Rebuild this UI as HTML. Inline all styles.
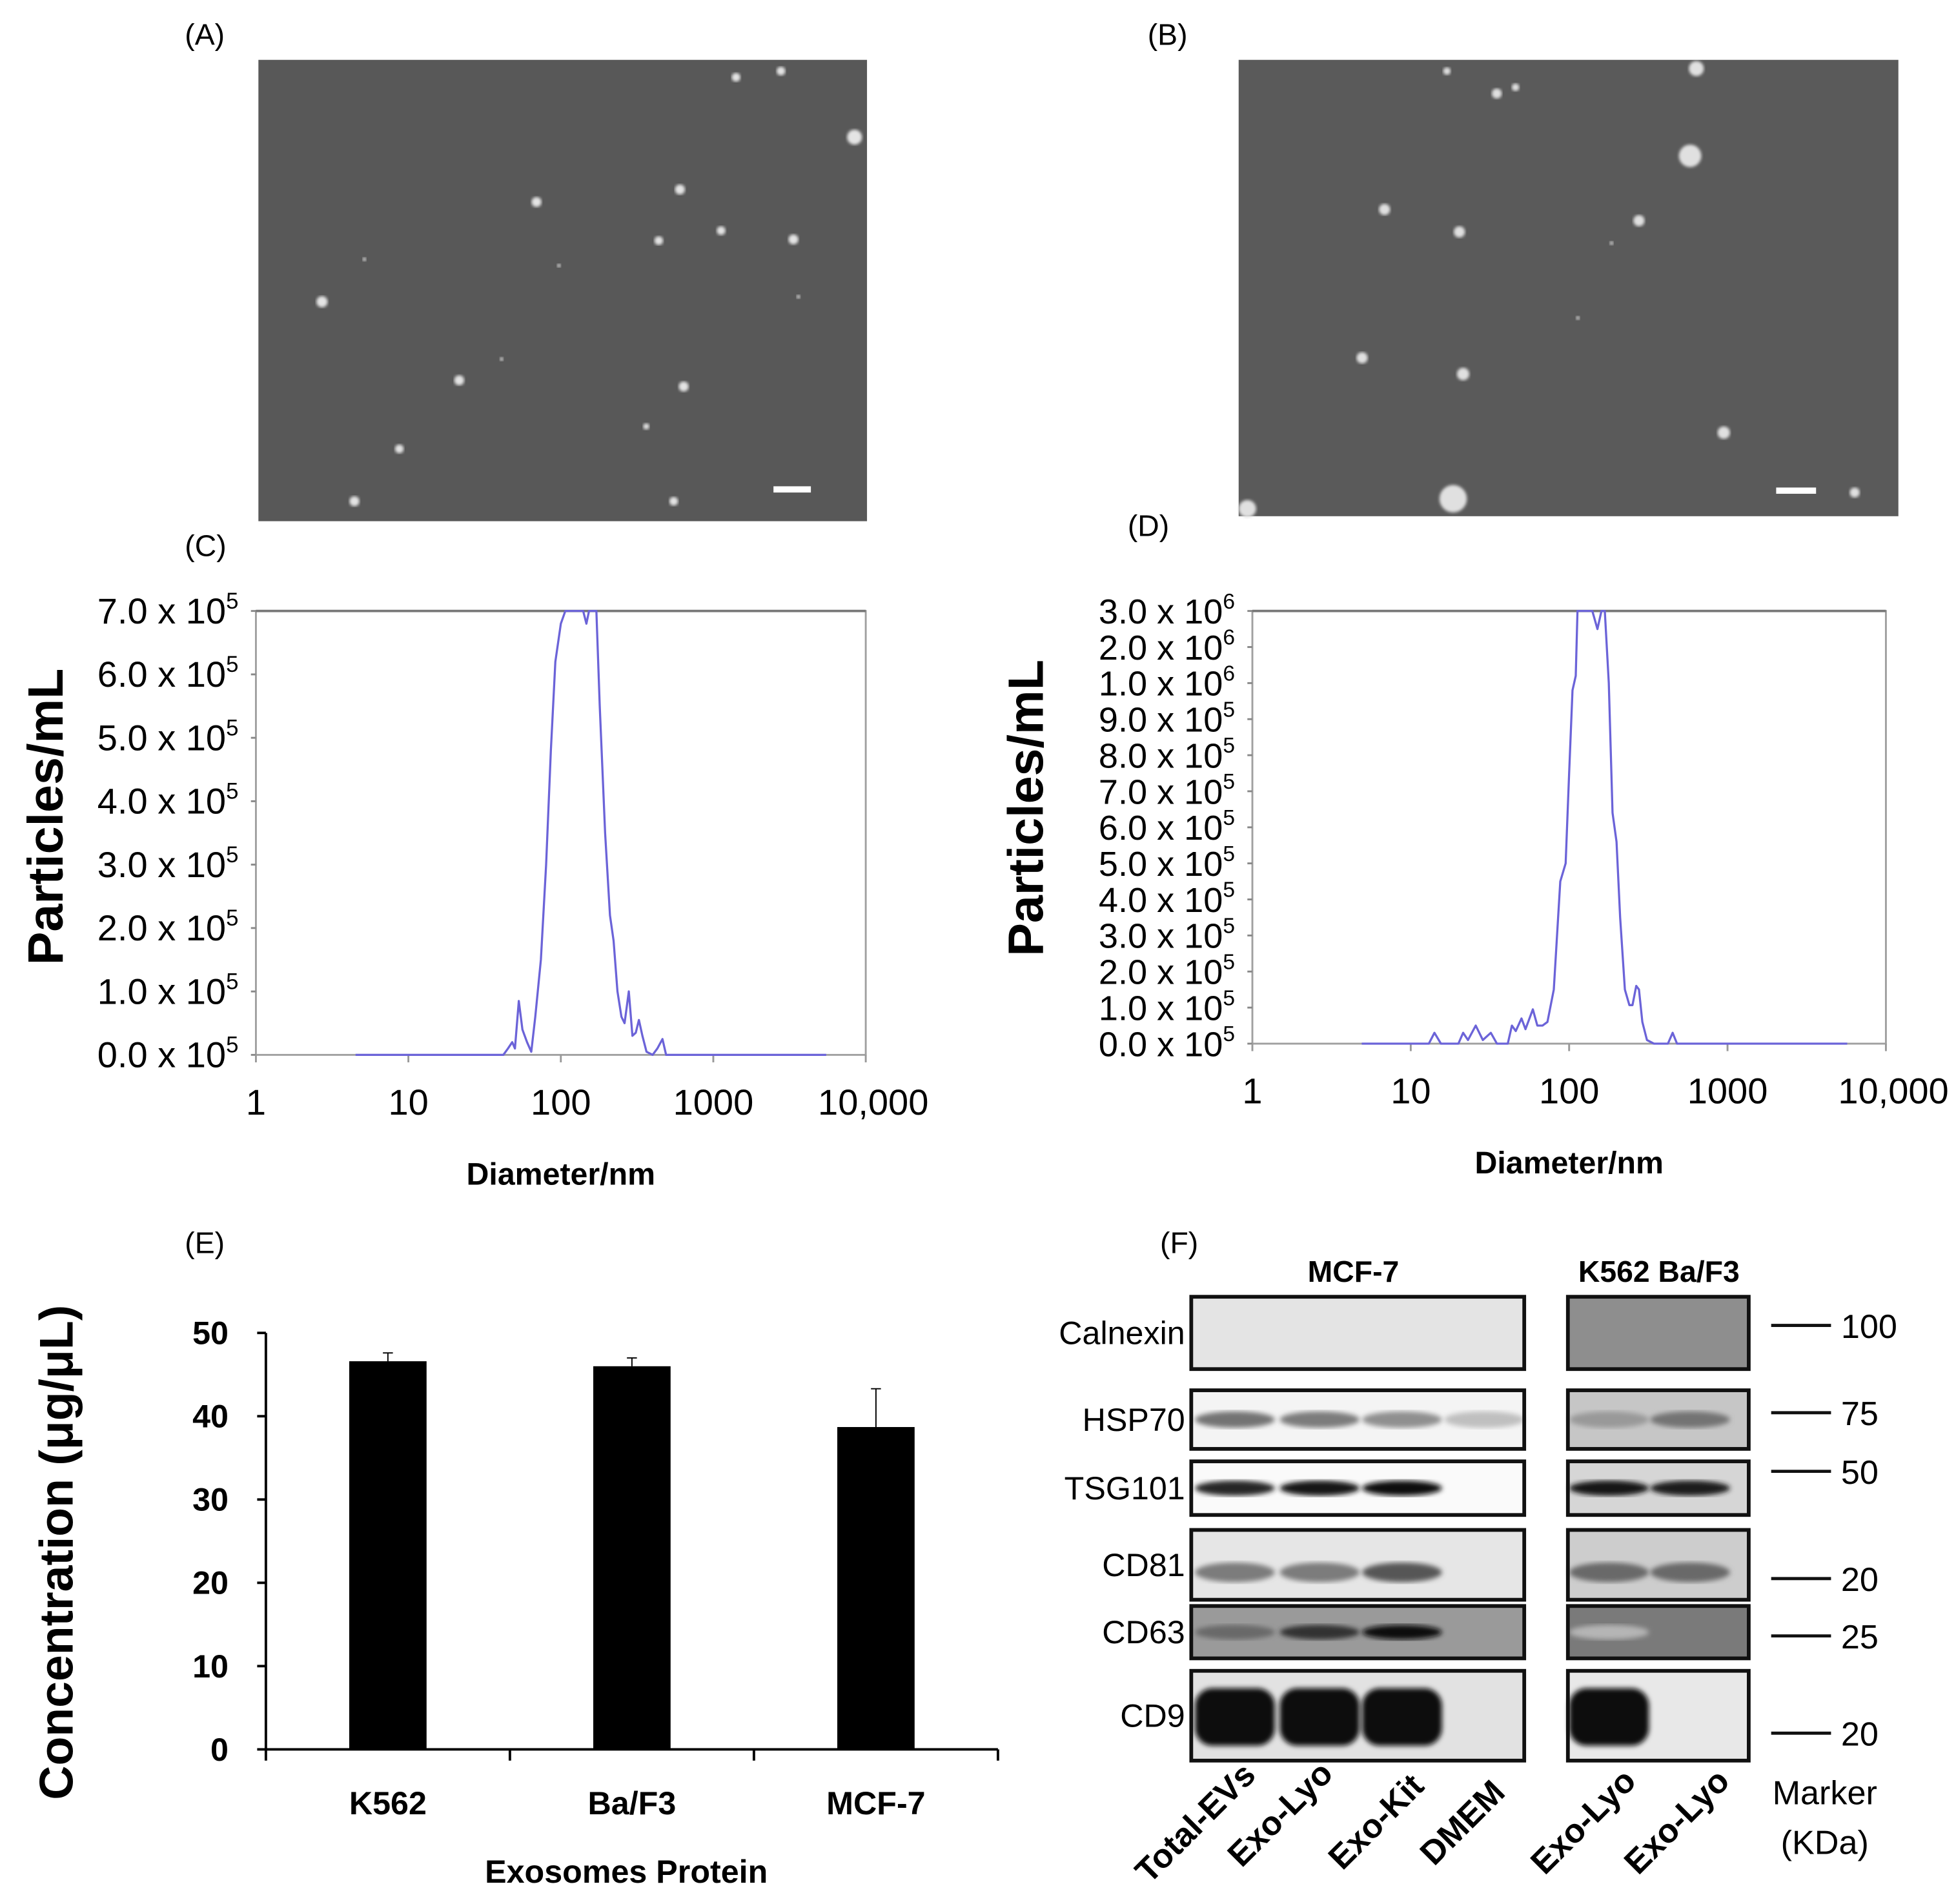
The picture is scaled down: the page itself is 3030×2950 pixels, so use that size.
<!DOCTYPE html>
<html><head><meta charset="utf-8"><style>
html,body{margin:0;padding:0;background:#fff;}
svg{display:block;font-family:"Liberation Sans",sans-serif;}
.n{font-family:"Liberation Sans Narrow","Liberation Sans",sans-serif;}
</style></head><body>
<svg id="fig" xmlns="http://www.w3.org/2000/svg" width="3030" height="2950" viewBox="0 0 1568 1527">
<defs>
<filter id="blur2"><feGaussianBlur stdDeviation="2"/></filter>
<filter id="blur1"><feGaussianBlur stdDeviation="1.2"/></filter>
</defs>
<rect width="1568" height="1527" fill="#fff"/>
<text x="148" y="36" font-size="24">(A)</text>
<text x="920" y="36" font-size="24">(B)</text>
<text x="148" y="446" font-size="24">(C)</text>
<text x="904" y="430" font-size="24">(D)</text>
<text x="148" y="1005" font-size="24">(E)</text>
<text x="930" y="1005" font-size="24">(F)</text>

<g id="semA">
<rect x="207" y="48" width="488" height="370" fill="#585858"/>
<rect x="620" y="390" width="30" height="5" fill="#fff"/>
</g>
<g id="semB">
<rect x="993" y="48" width="529" height="366" fill="#5a5a5a"/>
<rect x="1424" y="391" width="32" height="5" fill="#fff"/>
</g>

<g id="chartC"></g>
<g id="chartD"></g>
<g id="chartE"></g>
<g id="blotF"></g>
</svg>
<script>
const NS="http://www.w3.org/2000/svg";
function mk(p,t,a,txt){const e=document.createElementNS(NS,t);for(const k in a)e.setAttribute(k,a[k]);if(txt!==undefined)e.textContent=txt;p.appendChild(e);return e;}

const semADots=[[430,162,4],[545,152,4],[578,185,3.5],[636,192,4],[528,193,3.5],[258,242,4.5],[292,208,1.5],[448,213,1.5],[368,305,4],[548,310,4],[402,288,1.5],[320,360,3.5],[284,402,4],[540,402,3.5],[518,342,2.5],[685,110,6],[590,62,3.5],[626,57,3.5],[640,238,1.5]];
const semBDots=[[1110,168,4.5],[1170,186,4.5],[1314,177,4.5],[1092,287,4.5],[1173,300,5],[1382,347,5],[1160,57,3],[1200,75,4],[1215,70,3],[1355,125,9],[1360,55,6],[1165,400,11],[1000,408,7],[1487,395,4],[1265,255,1.5],[1292,195,1.5]];
const gA=document.getElementById('semA'),gB=document.getElementById('semB');
semADots.forEach(d=>{const c=mk(gA,'circle',{cx:d[0],cy:d[1],r:d[2],fill:'#e4e4e4',filter:'url(#blur1)'});

});
semBDots.forEach(d=>{const c=mk(gB,'circle',{cx:d[0],cy:d[1],r:d[2],fill:'#e0e0e0',filter:'url(#blur1)'});

});

// ===== Chart C data (units 1e5) =====
const cDiam=[4.5,42,45,48,50,53,56,60,64,68,74,80,86,92,100,107,112,140,147,153,160,171,180,195,210,222,235,250,262,279,295,310,325,343,365,400,430,464,490,5500];
const cVal=[0,0,0.1,0.2,0.1,0.85,0.4,0.2,0.05,0.6,1.5,3.0,4.8,6.2,6.8,7.0,7.2,7.2,6.8,7.2,7.2,7.0,5.5,3.5,2.2,1.8,1.0,0.6,0.5,1.0,0.3,0.35,0.55,0.3,0.05,0.0,0.1,0.25,0,0];
const cTicks=[0,1,2,3,4,5,6,7];
const xTickVals=[1,10,100,1000,10000];
const xTickText=['1','10','100','1000','10,000'];

// ===== Chart D data (units 1e5) =====
const dDiam=[4.9,13,14.1,15.5,20,21.4,23,25.7,28.5,32,35,41,43.5,46,50,53,59,63,68,73,80,88,95,100,105,110,113,140,151,160,168,178,188,199,210,225,240,251,265,276,290,310,343,420,450,480,5700];
const dVal=[0,0,0.3,0,0,0.3,0.1,0.5,0.1,0.3,0,0,0.5,0.35,0.7,0.4,0.95,0.5,0.5,0.6,1.5,4.5,5.0,7.5,9.8,12,32,32,25,32,30,10,6.4,5.6,3.5,1.5,1.07,1.07,1.6,1.5,0.6,0.1,0,0,0.3,0,0];
const dTickVals=[0,1,2,3,4,5,6,7,8,9,10,20,30];
const dTickText=['0.0 x 10','1.0 x 10','2.0 x 10','3.0 x 10','4.0 x 10','5.0 x 10','6.0 x 10','7.0 x 10','8.0 x 10','9.0 x 10','1.0 x 10','2.0 x 10','3.0 x 10'];
const dTickExp=['5','5','5','5','5','5','5','5','5','5','6','6','6'];

function sizeChart(g,box,xMap,yMap,yMax,diam,vals,ticks,tickTxt,tickExp,titleX,titleY,fs){
  mk(g,'rect',{x:box.x0,y:box.y0,width:box.x1-box.x0,height:box.y1-box.y0,fill:'none',stroke:'#a0a0a0','stroke-width':1.5});
  mk(g,'line',{x1:box.x0,y1:box.y0,x2:box.x1,y2:box.y0,stroke:'#777','stroke-width':2});
  ticks.forEach((v,i)=>{const y=yMap(v);
    const t=mk(g,'text',{x:box.x0-14,y:y+10,'font-size':fs,'text-anchor':'end',class:'n'});
    
    
    t.textContent=tickTxt[i];
    mk(t,'tspan',{dy:-12,'font-size':fs*0.62},tickExp[i]);
    mk(g,'line',{x1:box.x0-4,y1:y,x2:box.x0,y2:y,stroke:'#888','stroke-width':1.5});
  });
  xTickVals.forEach((v,i)=>{const x=xMap(v);
    mk(g,'line',{x1:x,y1:box.y1,x2:x,y2:box.y1+6,stroke:'#999','stroke-width':1.5});
    const t=mk(g,'text',{x:x+(i==4?6:0),y:box.y1+48,'font-size':29,'text-anchor':'middle',class:'n'},xTickText[i]);
    
    
  });
  let pts=diam.map((d,i)=>xMap(d).toFixed(1)+','+yMap(Math.min(vals[i],yMax)).toFixed(1)).join(' ');
  const pl=mk(g,'polyline',{points:pts,fill:'none',stroke:'#6b63d8','stroke-width':1.7,'stroke-linejoin':'round'});
  
  
  const yt=mk(g,'text',{x:0,y:0,'font-size':40,'font-weight':'bold','text-anchor':'middle',transform:`translate(${titleX},${titleY}) rotate(-90)`},'Particles/mL');
  
  
  const xt=mk(g,'text',{x:(box.x0+box.x1)/2,y:box.y1+104,'font-size':25,'font-weight':'bold','text-anchor':'middle'},'Diameter/nm');
  
  
}
(function(){
  const box={x0:205,x1:694,y0:490,y1:846};
  const xMap=d=>box.x0+Math.log10(d)/4*(box.x1-box.x0);
  const yMap=v=>box.y1-v/7*(box.y1-box.y0);
  sizeChart(document.getElementById('chartC'),box,xMap,yMap,7,cDiam,cVal,cTicks,cTicks.map(v=>v.toFixed(1)+' x 10'),cTicks.map(()=> '5'),50,655,29);
})();
(function(){
  const box={x0:1004,x1:1512,y0:490,y1:837};
  const step=(box.y1-box.y0)/12;
  const xMap=d=>box.x0+Math.log10(d)/4*(box.x1-box.x0);
  const yMap=v=>box.y1-(v<=10?v*step:10*step+(v-10)/10*step);
  sizeChart(document.getElementById('chartD'),box,xMap,yMap,30,dDiam,dVal,dTickVals,dTickText,dTickExp,836,648,28);
})();

// ===== Chart E =====
const eCats=['K562','Ba/F3','MCF-7'];
const eVals=[46.6,46.0,38.7];
const eErr=[1.0,1.0,4.6];
const eTicks=[0,10,20,30,40,50];
(function(){
  const g=document.getElementById('chartE');
  const x0=213,x1=800,y0=1403,yTop=1069;
  const yMap=v=>y0-v/50*(y0-yTop);
  const bw=(x1-x0)/eCats.length;
  mk(g,'line',{x1:x0,y1:yMap(50),x2:x0,y2:y0,stroke:'#000','stroke-width':2});
  mk(g,'line',{x1:x0,y1:y0,x2:x1,y2:y0,stroke:'#000','stroke-width':2});
  eTicks.forEach(v=>{const y=yMap(v);
    mk(g,'line',{x1:x0-7,y1:y,x2:x0,y2:y,stroke:'#000','stroke-width':2});
    const t=mk(g,'text',{x:x0-30,y:y+9,'font-size':26,'font-weight':'bold','text-anchor':'end',class:'n'},String(v));
    
    
  });
  for(let i=0;i<=eCats.length;i++){const x=x0+i*bw;mk(g,'line',{x1:x,y1:y0,x2:x,y2:y0+9,stroke:'#000','stroke-width':2});}
  eCats.forEach((c,i)=>{const cx=x0+(i+0.5)*bw;
    const r=mk(g,'rect',{x:cx-31,y:yMap(eVals[i]),width:62,height:y0-yMap(eVals[i]),fill:'#000'});
    
    
    const ey=yMap(eVals[i]+eErr[i]);
    const el=mk(g,'path',{d:`M${cx},${yMap(eVals[i])}V${ey}M${cx-4},${ey}H${cx+4}`,stroke:'#000','stroke-width':1});
    
    
    const t=mk(g,'text',{x:cx,y:1455,'font-size':26,'font-weight':'bold','text-anchor':'middle',class:'n'},c);
    
    
  });
  const xt=mk(g,'text',{x:502,y:1510,'font-size':26,'font-weight':'bold','text-anchor':'middle',class:'n'},'Exosomes Protein');
  
  
  const yt=mk(g,'text',{x:0,y:0,'font-size':38,'font-weight':'bold','text-anchor':'middle',transform:'translate(58,1245) rotate(-90)'},'Concentration (μg/μL)');
  
  
})();

// ===== Blot F =====
const fRows=['Calnexin','HSP70','TSG101','CD81','CD63','CD9'];
const fRowY=[[1040,1098],[1115,1162],[1172,1215],[1227,1283],[1288,1330],[1340,1412]];
const fLeftBg=['#e4e4e4','#f4f4f4','#fafafa','#e6e6e6','#9a9a9a','#e2e2e2'];
const fRightBg=['#8e8e8e','#c6c6c6','#d6d6d6','#cdcdcd','#7a7a7a','#e8e8e8'];
const fBands=[[0,0,0,0,0,0],[0.45,0.4,0.3,0.05,0.25,0.45],[0.85,0.95,1,0,0.95,0.9],[0.4,0.4,0.6,0,0.5,0.5],[0.5,0.8,1,0,0.1,0],[1,1,1,0,1,0]];
const fLaneX=[990,1058,1124,1190,1290,1355];
const fMarkers=[['100',1063],['75',1133],['50',1180],['20',1266],['25',1312],['20',1390]];
const fLanes=['Total-EVs','Exo-Lyo','Exo-Kit','DMEM','Exo-Lyo','Exo-Lyo'];
const fLaneEnd=[[1008,1425],[1070,1424],[1143,1434],[1208,1439],[1313,1430],[1388,1430]];
(function(){
  const g=document.getElementById('blotF');
  let t=mk(g,'text',{x:1085,y:1028,'font-size':24,'font-weight':'bold','text-anchor':'middle',class:'n'},'MCF-7');
  
  t=mk(g,'text',{x:1330,y:1028,'font-size':24,'font-weight':'bold','text-anchor':'middle',class:'n'},'K562  Ba/F3');
  
  fRows.forEach((r,i)=>{const [a,b]=fRowY[i];const h=b-a;
    mk(g,'rect',{x:955,y:a,width:267,height:h,fill:fLeftBg[i]});
    mk(g,'rect',{x:1257,y:a,width:145,height:h,fill:fRightBg[i]});
    fBands[i].forEach((v,j)=>{if(v<=0)return;const cx=fLaneX[j];
      const gray=Math.round(200-190*v);
      let e;
      if(i==5){e=mk(g,'rect',{x:cx-32,y:a+14,width:64,height:h-26,rx:14,fill:`rgb(${gray},${gray},${gray})`,filter:'url(#blur2)'});}
      else{const bh=h*0.28;e=mk(g,'ellipse',{cx:cx,cy:(a+b)/2+(i==3?6:0),rx:32,ry:bh/2,fill:`rgb(${gray},${gray},${gray})`,filter:'url(#blur2)'});}
      
      
    });
    mk(g,'rect',{x:955,y:a,width:267,height:h,fill:'none',stroke:'#111','stroke-width':3});
    mk(g,'rect',{x:1257,y:a,width:145,height:h,fill:'none',stroke:'#111','stroke-width':3});
    const l=mk(g,'text',{x:950,y:(a+b)/2+9,'font-size':26,'text-anchor':'end',class:'n'},r);
    
    
  });
  fMarkers.forEach(m=>{mk(g,'line',{x1:1420,y1:m[1],x2:1468,y2:m[1],stroke:'#111','stroke-width':2.5});
    const l=mk(g,'text',{x:1476,y:m[1]+10,'font-size':27,class:'n'},m[0]);
    
    
  });
  fLanes.forEach((n,j)=>{const p=fLaneEnd[j];
    const l=mk(g,'text',{x:0,y:0,'font-size':27,'font-weight':'bold','text-anchor':'end',transform:`translate(${p[0]},${p[1]}) rotate(-45)`,class:'n'},n);
    
    
  });
  t=mk(g,'text',{x:1463,y:1447,'font-size':27,'text-anchor':'middle',class:'n'},'Marker');
  
  t=mk(g,'text',{x:1463,y:1487,'font-size':27,'text-anchor':'middle',class:'n'},'(KDa)');
  
})();
</script>
</body></html>
